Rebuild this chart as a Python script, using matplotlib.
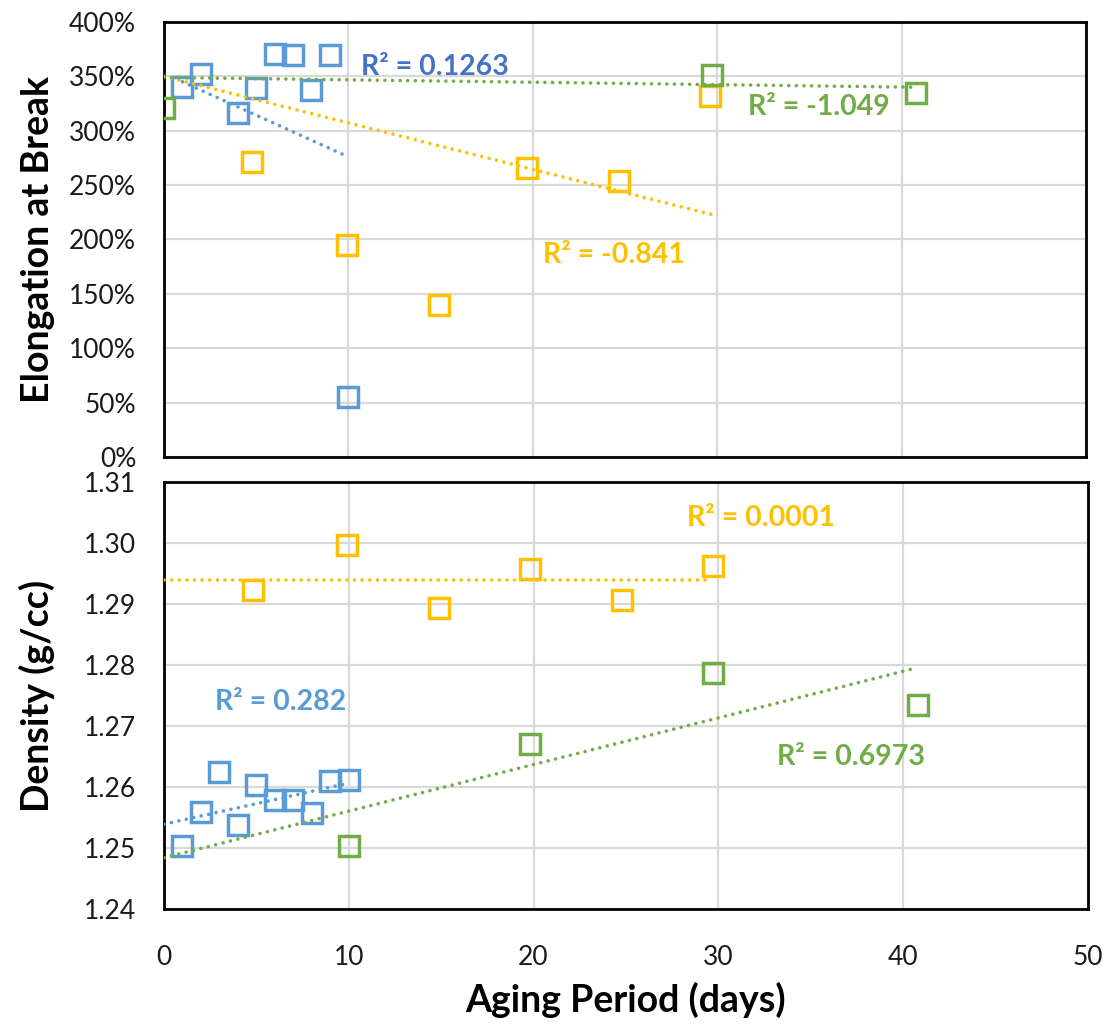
import matplotlib
matplotlib.use('Agg')
import numpy as np
from matplotlib import pyplot as plt

plt.rcParams['font.family'] = ['Lato', 'DejaVu Sans']

# colores tipo Excel
azul = '#5B9BD5'
azul_osc = '#4472C4'
naranja = '#FFC000'
verde = '#70AD47'

# Elongación a la rotura (%)
dias_azul_elong = [1, 2, 4, 5, 6, 7, 8, 9, 10]
elong_azul = [340, 352, 316, 339, 371, 370, 337, 370, 55]
dias_naranja_elong = [4.8, 9.9, 14.9, 19.7, 24.7, 29.6]
elong_naranja = [271, 195, 140, 266, 254, 332]
dias_verde_elong = [0, 29.7, 40.8]
elong_verde = [321, 351, 335]

# líneas de tendencia (extremos)
tend_azul_elong_x = [1, 10]
tend_azul_elong_y = [345, 276]
tend_naranja_elong_x = [0, 29.7]
tend_naranja_elong_y = [350, 223]
tend_verde_elong_x = [0, 40.8]
tend_verde_elong_y = [349, 340]

# Densidad (g/cc)
dias_azul_dens = [1, 2, 3, 4, 5, 6, 7, 8, 9, 10]
dens_azul = [1.2503, 1.2559, 1.2625, 1.2537, 1.2603, 1.2579, 1.2579, 1.2557, 1.2610, 1.2611]
dias_naranja_dens = [4.8, 9.9, 14.9, 19.8, 24.8, 29.7]
dens_naranja = [1.2923, 1.2997, 1.2893, 1.2957, 1.2906, 1.2962]
dias_verde_dens = [10, 19.8, 29.7, 40.8]
dens_verde = [1.2503, 1.2670, 1.2787, 1.2735]

tend_azul_dens_x = [0, 9.8]
tend_azul_dens_y = [1.2539, 1.2605]
tend_naranja_dens_x = [0, 29.5]
tend_naranja_dens_y = [1.2939, 1.2939]
tend_verde_dens_x = [0, 40.7]
tend_verde_dens_y = [1.2484, 1.2795]

r2_elong = ['R² = 0.1263', 'R² = -0.841', 'R² = -1.049']
r2_dens = ['R² = 0.0001', 'R² = 0.282', 'R² = 0.6973']

fig = plt.figure(figsize=(11.07, 10.27), dpi=100)
ax1 = fig.add_axes([0.1481, 0.555, 0.8329, 0.4236])
ax2 = fig.add_axes([0.1481, 0.1149, 0.8347, 0.4158])

estilo_punto = dict(marker='s', markersize=15, markerfacecolor='none',
                    markeredgewidth=2.5, linestyle='none', zorder=3)
estilo_tend = dict(linestyle=(0, (0.01, 2.1)), linewidth=2.6,
                   dash_capstyle='round', zorder=4)
estilo_r2 = dict(fontsize=20.5, fontweight='bold', ha='center', va='center')

# --- gráfico superior: elongación ---
ax1.plot(dias_azul_elong, elong_azul, color=azul, **estilo_punto)
ax1.plot(dias_naranja_elong, elong_naranja, color=naranja, **estilo_punto)
ax1.plot(dias_verde_elong, elong_verde, color=verde, **estilo_punto)
ax1.plot(tend_azul_elong_x, tend_azul_elong_y, color=azul, **estilo_tend)
ax1.plot(tend_naranja_elong_x, tend_naranja_elong_y, color=naranja, **estilo_tend)
ax1.plot(tend_verde_elong_x, tend_verde_elong_y, color=verde, **estilo_tend)

ax1.text(14.7, 359, r2_elong[0], color=azul_osc, **estilo_r2)
ax1.text(24.4, 186, r2_elong[1], color=naranja, **estilo_r2)
ax1.text(35.5, 322, r2_elong[2], color=verde, **estilo_r2)

ax1.set_xlim(0, 50)
ax1.set_ylim(0, 400)
ax1.set_xticks(np.arange(0, 51, 10))
ax1.set_yticks(np.arange(0, 401, 50))
ax1.set_yticklabels([f'{v}%' for v in range(0, 401, 50)])
ax1.tick_params(axis='x', labelbottom=False)
ax1.set_ylabel('Elongation at Break', fontsize=27, fontweight='bold')
ax1.yaxis.set_label_coords(-0.118, 0.5)

# --- gráfico inferior: densidad ---
ax2.plot(dias_azul_dens, dens_azul, color=azul, **estilo_punto)
ax2.plot(dias_naranja_dens, dens_naranja, color=naranja, **estilo_punto)
ax2.plot(dias_verde_dens, dens_verde, color=verde, **estilo_punto)
ax2.plot(tend_azul_dens_x, tend_azul_dens_y, color=azul, **estilo_tend)
ax2.plot(tend_naranja_dens_x, tend_naranja_dens_y, color=naranja, **estilo_tend)
ax2.plot(tend_verde_dens_x, tend_verde_dens_y, color=verde, **estilo_tend)

ax2.text(32.3, 1.3041, r2_dens[0], color=naranja, **estilo_r2)
ax2.text(6.3, 1.2739, r2_dens[1], color=azul, **estilo_r2)
ax2.text(37.2, 1.2649, r2_dens[2], color=verde, **estilo_r2)

ax2.set_xlim(0, 50)
ax2.set_ylim(1.24, 1.31)
ax2.set_xticks(np.arange(0, 51, 10))
ax2.set_yticks(np.round(np.arange(1.24, 1.3101, 0.01), 2))
ax2.set_yticklabels([f'{v:.2f}' for v in np.arange(1.24, 1.3101, 0.01)])
ax2.set_ylabel('Density (g/cc)', fontsize=27, fontweight='bold')
ax2.yaxis.set_label_coords(-0.118, 0.5)
ax2.set_xlabel('Aging Period (days)', fontsize=27, fontweight='bold')
ax2.xaxis.set_label_coords(0.499, -0.17)

for ax in (ax1, ax2):
    ax.grid(True, color='#D9D9D9', linewidth=1.6)
    ax.set_axisbelow(True)
    for s in ax.spines.values():
        s.set_color('black')
        s.set_linewidth(2.0)
    ax.tick_params(length=0, labelsize=19, colors='#1a1a1a')
    ax.tick_params(axis='y', pad=20)
ax2.tick_params(axis='x', pad=26)

fig.savefig('out.png', dpi=100, facecolor='white')
